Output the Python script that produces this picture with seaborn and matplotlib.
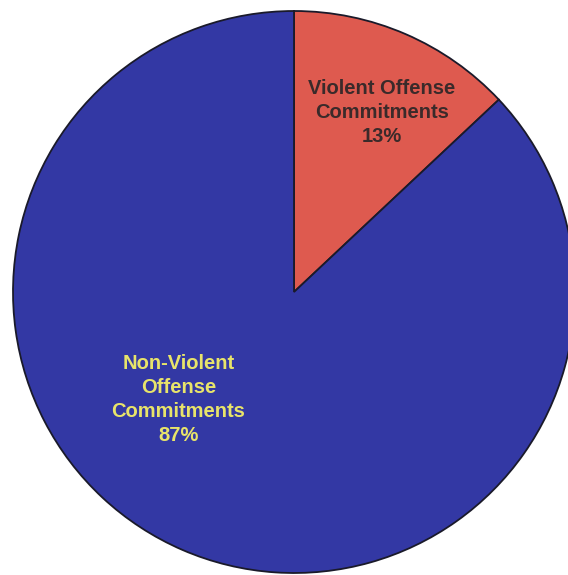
import matplotlib
matplotlib.use("Agg")
import matplotlib.pyplot as plt
import seaborn as sns
import numpy as np

categories = ["Violent Offense\nCommitments", "Non-Violent\nOffense\nCommitments"]
values = [13, 87]
colors = ["#de5a4f", "#3338a4"]
text_colors = ["#3a2a2a", "#e8e46a"]
# label anchor positions (fraction of radius, angle in degrees)
label_r = [0.712, 0.562]
label_ang = [64.0, 223.0]

sns.set_theme(style="white")
plt.rcParams['font.family'] = ['Liberation Sans', 'DejaVu Sans']

fig = plt.figure(figsize=(5.68, 5.75), dpi=100)
ax = fig.add_axes([0, 0, 1, 1])
R = 281.0
cx, cy = 294.0, 292.0
ax.pie(values, colors=colors, startangle=90, counterclock=False, radius=1.0,
       wedgeprops=dict(edgecolor="#1a1a2a", linewidth=1.3), center=(0, 0))
ax.set_xlim(-cx / R, (568 - cx) / R)
ax.set_ylim(-(575 - cy) / R, cy / R)
ax.set_aspect('auto')
ax.axis('off')

for cat, v, tc, r, a in zip(categories, values, text_colors, label_r, label_ang):
    x = r * np.cos(np.deg2rad(a))
    y = r * np.sin(np.deg2rad(a))
    ax.text(x, y, f"{cat}\n{v}%", ha="center", va="center", color=tc,
            fontsize=14.5, fontweight="bold", linespacing=1.33)

fig.savefig("out.png", dpi=100, facecolor="white")
